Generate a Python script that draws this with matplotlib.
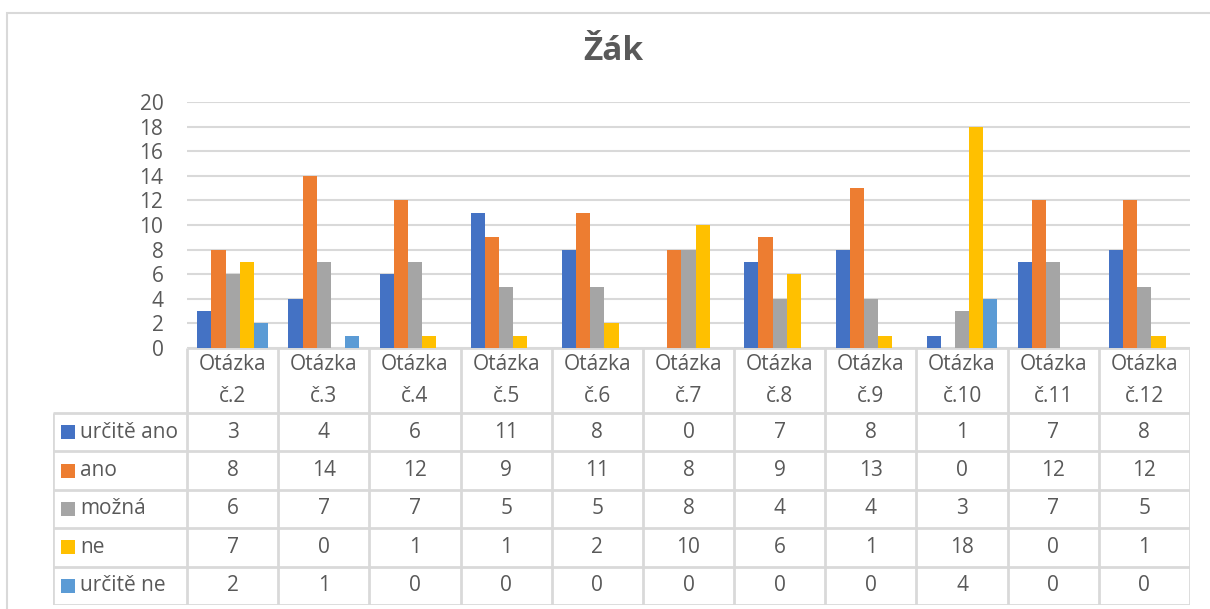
import matplotlib.pyplot as plt
from matplotlib.patches import Rectangle
from matplotlib.lines import Line2D

plt.rcParams['font.family'] = ['Open Sans', 'DejaVu Sans']

kategorie = ['Otázka\nč.2', 'Otázka\nč.3', 'Otázka\nč.4', 'Otázka\nč.5', 'Otázka\nč.6', 'Otázka\nč.7',
             'Otázka\nč.8', 'Otázka\nč.9', 'Otázka\nč.10', 'Otázka\nč.11', 'Otázka\nč.12']
serie = ['určitě ano', 'ano', 'možná', 'ne', 'určitě ne']
urcite_ano = [3, 4, 6, 11, 8, 0, 7, 8, 1, 7, 8]
ano = [8, 14, 12, 9, 11, 8, 9, 13, 0, 12, 12]
mozna = [6, 7, 7, 5, 5, 8, 4, 4, 3, 7, 5]
ne = [7, 0, 1, 1, 2, 10, 6, 1, 18, 0, 1]
urcite_ne = [2, 1, 0, 0, 0, 0, 0, 0, 4, 0, 0]
hodnoty = [urcite_ano, ano, mozna, ne, urcite_ne]
barvy = ['#4472C4', '#ED7D31', '#A5A5A5', '#FFC000', '#5B9BD5']

sediva = '#D9D9D9'
text_barva = '#595959'
fs = 15
W, H = 1210, 609

fig = plt.figure(figsize=(W / 100, H / 100), dpi=100)
fig.patches.append(Rectangle((7 / W, -0.01), 1.1, (H - 13) / H + 0.01, transform=fig.transFigure,
                             fill=False, edgecolor=sediva, linewidth=1.5))

# graf
x0, x1, y_top, y_zero = 187, 1190, 102, 348
ax = fig.add_axes([x0 / W, (H - y_zero) / H, (x1 - x0) / W, (y_zero - y_top) / H])
n = len(kategorie)
sirka = 0.155
for i, (jmeno, vals, c) in enumerate(zip(serie, hodnoty, barvy)):
    pozice = [k + (i - 2) * sirka for k in range(n)]
    ax.bar(pozice, vals, width=sirka, color=c, zorder=3)
ax.set_xlim(-0.5, n - 0.5)
ax.set_ylim(0, 20)
ax.set_yticks(range(0, 21, 2))
ax.yaxis.grid(True, color=sediva, linewidth=1.5, zorder=0)
ax.set_xticks([])
for s in ['top', 'right', 'left', 'bottom']:
    ax.spines[s].set_visible(False)
ax.tick_params(axis='y', length=0, pad=17, labelsize=fs, labelcolor=text_barva)

fig.text(613 / W, (H - 52) / H, 'Žák', ha='center', va='center', fontsize=24,
         fontweight='bold', color=text_barva)

# tabulka s daty
t_left, t_bottom = 53, 605
col = (x1 - x0) / n
lw = (x0 - t_left) / col
radek = 38.4
hlavicka = (t_bottom - y_zero) - 5 * radek
tab = fig.add_axes([t_left / W, (H - t_bottom) / H, (x1 - t_left) / W, (t_bottom - y_zero) / H])
tab.set_xlim(-0.5 - lw, n - 0.5)
tab.set_ylim(0, 5 * radek + hlavicka)
tab.axis('off')

top = 5 * radek + hlavicka
kw = dict(color=sediva, linewidth=2, solid_capstyle='butt')
tab.add_line(Line2D([-0.5, n - 0.5], [top, top], **kw))
for r in range(6):
    y = r * radek
    tab.add_line(Line2D([-0.5 - lw, n - 0.5], [y, y], **kw))
tab.add_line(Line2D([-0.5 - lw, -0.5 - lw], [0, 5 * radek], **kw))
for k in range(n + 1):
    tab.add_line(Line2D([k - 0.5, k - 0.5], [0, top], **kw))

for k, kat in enumerate(kategorie):
    tab.text(k, 5 * radek + hlavicka / 2, kat, ha='center', va='center', fontsize=fs,
             color=text_barva, linespacing=1.65)

for i, (jmeno, vals, c) in enumerate(zip(serie, hodnoty, barvy)):
    yc = (4 - i) * radek + radek / 2
    ctverec = 14 / col
    tab.add_patch(Rectangle((-0.5 - lw + 8 / col, yc - 7), ctverec, 14, facecolor=c, edgecolor='none'))
    tab.text(-0.5 - lw + 27 / col, yc, jmeno, ha='left', va='center', fontsize=fs, color=text_barva)
    for k, v in enumerate(vals):
        tab.text(k, yc, str(v), ha='center', va='center', fontsize=fs, color=text_barva)

fig.savefig('out.png', dpi=100)
